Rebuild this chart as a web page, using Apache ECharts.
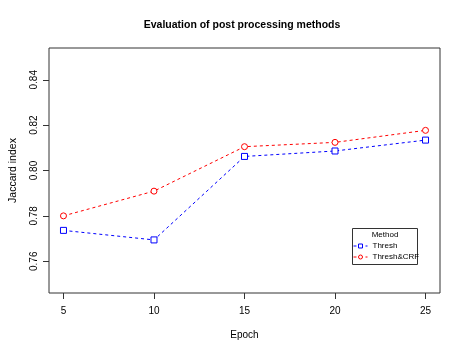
<!DOCTYPE html>
<html>
<head>
<meta charset="utf-8">
<script src="https://cdn.jsdelivr.net/npm/echarts@6/dist/echarts.min.js"></script>
<style>
  html, body { margin: 0; padding: 0; background: #fff; }
  #chart { width: 463px; height: 354px; }
</style>
</head>
<body>
<div id="chart"></div>
<script>
  // 数据
  var epochs = [5, 10, 15, 20, 25];
  var thresh = [0.7736, 0.7694, 0.8062, 0.8086, 0.8134];
  var threshCrf = [0.7800, 0.7909, 0.8105, 0.8124, 0.8177];
  var xTicks = [5, 10, 15, 20, 25];
  var yTicks = [0.76, 0.78, 0.80, 0.82, 0.84];

  var font = 'Liberation Sans, Arial, sans-serif';

  function pairs(xs, ys) {
    return xs.map(function (x, i) { return [x, ys[i]]; });
  }

  var chart = echarts.init(document.getElementById('chart'));
  chart.setOption({
    animation: false,
    backgroundColor: '#fff',
    textStyle: { fontFamily: font, color: '#000' },
    title: {
      text: 'Evaluation of post processing methods',
      left: 242,
      top: 20,
      padding: 0,
      textAlign: 'center',
      textStyle: { fontSize: 10.5, fontWeight: 'bold', color: '#000', fontFamily: font }
    },
    grid: {
      left: 43.5, right: 23, top: 48, bottom: 61,
      show: true, borderColor: '#333', borderWidth: 1, backgroundColor: 'transparent'
    },
    xAxis: {
      type: 'value',
      min: 4.2, max: 25.8,
      name: 'Epoch',
      nameLocation: 'middle',
      nameGap: 37,
      nameTextStyle: { fontSize: 10, color: '#000', fontFamily: font },
      axisLine: { show: false },
      splitLine: { show: false },
      axisTick: { show: true, length: 6, customValues: xTicks, lineStyle: { color: '#333' } },
      axisLabel: { customValues: xTicks, fontSize: 10, color: '#000', margin: 13, fontFamily: font }
    },
    yAxis: {
      type: 'value',
      min: 0.746, max: 0.854,
      name: 'Jaccard index',
      nameLocation: 'middle',
      nameGap: 30,
      nameTextStyle: { fontSize: 10.5, color: '#000', fontFamily: font },
      axisLine: { show: false },
      splitLine: { show: false },
      axisTick: { show: true, length: 6, customValues: yTicks, lineStyle: { color: '#333' } },
      axisLabel: {
        customValues: yTicks, rotate: 90, fontSize: 10, color: '#000', margin: 10, fontFamily: font,
        formatter: function (v) { return v.toFixed(2); }
      }
    },
    legend: {
      orient: 'vertical',
      left: 353, top: 242,
      padding: 0,
      itemWidth: 14, itemHeight: 5, itemGap: 3,
      itemStyle: { borderWidth: 1 },
      lineStyle: { width: 1 },
      textStyle: { fontSize: 8, color: '#000', fontFamily: font },
      data: ['Thresh', 'Thresh&CRF']
    },
    graphic: [
      {
        type: 'rect',
        shape: { x: 352.5, y: 228.5, width: 65, height: 36 },
        style: { fill: 'none', stroke: '#333', lineWidth: 1 }
      },
      {
        type: 'text',
        x: 385, y: 235,
        style: { text: 'Method', fontSize: 8, fill: '#000', fontFamily: font, align: 'center', verticalAlign: 'middle' }
      }
    ],
    series: [
      {
        name: 'Thresh',
        type: 'line',
        data: pairs(epochs, thresh),
        symbol: 'rect', symbolSize: 6,
        itemStyle: { color: '#fff', borderColor: '#0000ff', borderWidth: 1 },
        lineStyle: { color: '#0000ff', width: 1, type: [3, 3] }
      },
      {
        name: 'Thresh&CRF',
        type: 'line',
        data: pairs(epochs, threshCrf),
        symbol: 'circle', symbolSize: 6,
        itemStyle: { color: '#fff', borderColor: '#ff0000', borderWidth: 1 },
        lineStyle: { color: '#ff0000', width: 1, type: [3, 3] }
      }
    ]
  });
</script>
</body>
</html>
